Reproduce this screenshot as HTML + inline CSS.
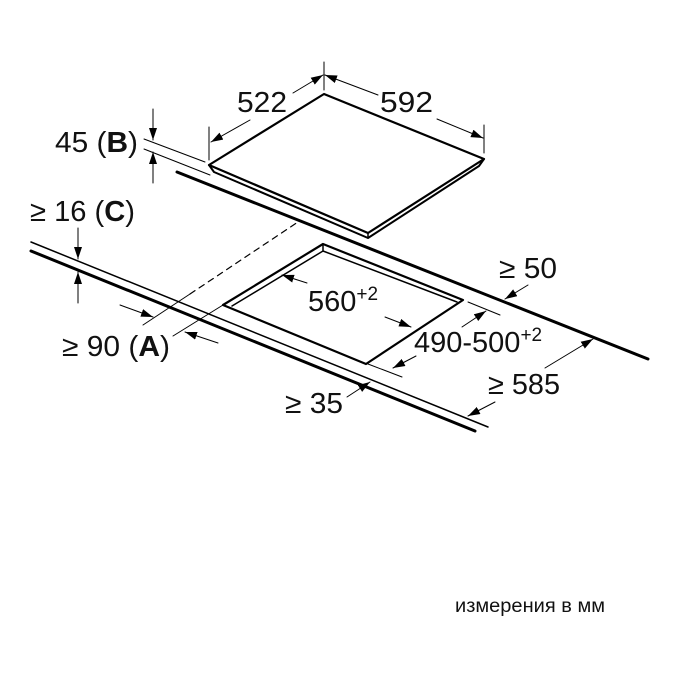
<!DOCTYPE html>
<html><head><meta charset="utf-8"><style>
html,body{margin:0;padding:0;background:#fff;}
svg{display:block;}
text{font-family:"Liberation Sans",Arial,sans-serif;fill:#111;}
</style></head><body>
<svg width="680" height="680" viewBox="0 0 680 680" xmlns="http://www.w3.org/2000/svg">
<defs>
<marker id="a" viewBox="0 0 12 8" refX="12" refY="4" markerWidth="12" markerHeight="8" markerUnits="userSpaceOnUse" orient="auto">
<path d="M0,0 L12,4 L0,8 z" fill="#000"/></marker>
</defs>
<g stroke="#000" fill="none" stroke-linecap="round" stroke-linejoin="round">
<line x1="177" y1="172" x2="648" y2="359" stroke-width="3"/>
<line x1="31" y1="242" x2="488" y2="427" stroke-width="1.5"/>
<line x1="31" y1="251" x2="475" y2="431" stroke-width="3"/>
<line x1="144" y1="139" x2="205" y2="162" stroke-width="1"/>
<line x1="144" y1="149" x2="210" y2="175" stroke-width="1"/>
<polygon points="324,94 484,159 368,233 209,165" fill="#fff" stroke-width="2.2"/>
<polyline points="209,165 214,172 368,238 479,166 484,159" stroke-width="2"/>
<line x1="368" y1="233" x2="368" y2="238" stroke-width="1.5"/>
<polygon points="323,244 463,300 366,364 223,305" stroke-width="2.2"/>
<polyline points="232,306 323,251 457,302" stroke-width="1.5"/>
<line x1="323" y1="244" x2="323" y2="251" stroke-width="1.5"/>
<line x1="190" y1="294" x2="298" y2="222" stroke-width="1.2" stroke-dasharray="6,5"/>
<line x1="143" y1="325" x2="190" y2="294" stroke-width="1"/>
<line x1="173" y1="336" x2="223" y2="305" stroke-width="1"/>
<line x1="324" y1="62" x2="324" y2="90" stroke-width="1"/>
<line x1="209" y1="127" x2="209" y2="160" stroke-width="1"/>
<line x1="484" y1="125" x2="484" y2="153" stroke-width="1"/>
<line x1="250" y1="120" x2="211" y2="142" stroke-width="1" marker-end="url(#a)"/>
<line x1="293" y1="93" x2="323" y2="75" stroke-width="1" marker-end="url(#a)"/>
<line x1="378" y1="95" x2="325" y2="75" stroke-width="1" marker-end="url(#a)"/>
<line x1="437" y1="119" x2="483" y2="138" stroke-width="1" marker-end="url(#a)"/>
<line x1="153" y1="109" x2="153" y2="140" stroke-width="1" marker-end="url(#a)"/>
<line x1="153" y1="183" x2="153" y2="152" stroke-width="1" marker-end="url(#a)"/>
<line x1="78" y1="228" x2="78" y2="259" stroke-width="1" marker-end="url(#a)"/>
<line x1="78" y1="303" x2="78" y2="272" stroke-width="1" marker-end="url(#a)"/>
<line x1="120" y1="305" x2="153" y2="317" stroke-width="1" marker-end="url(#a)"/>
<line x1="218" y1="343" x2="185" y2="332" stroke-width="1" marker-end="url(#a)"/>
<line x1="307" y1="283" x2="282" y2="275" stroke-width="1" marker-end="url(#a)"/>
<line x1="385" y1="317" x2="411" y2="327" stroke-width="1" marker-end="url(#a)"/>
<line x1="468" y1="302" x2="500" y2="315" stroke-width="1"/>
<line x1="368" y1="364" x2="402" y2="377" stroke-width="1"/>
<line x1="462" y1="327" x2="486" y2="311" stroke-width="1" marker-end="url(#a)"/>
<line x1="416" y1="356" x2="393" y2="368" stroke-width="1" marker-end="url(#a)"/>
<line x1="528" y1="285" x2="505" y2="299" stroke-width="1" marker-end="url(#a)"/>
<line x1="545" y1="368" x2="593" y2="339" stroke-width="1" marker-end="url(#a)"/>
<line x1="495" y1="402" x2="468" y2="416" stroke-width="1" marker-end="url(#a)"/>
<line x1="347" y1="397" x2="370" y2="382" stroke-width="1" marker-end="url(#a)"/>
</g>
<g font-size="29">
<text x="237" y="112" textLength="50" lengthAdjust="spacingAndGlyphs">522</text>
<text x="380" y="112" textLength="53" lengthAdjust="spacingAndGlyphs">592</text>
<text x="55" y="152" textLength="83" lengthAdjust="spacingAndGlyphs">45 (<tspan font-weight="bold">B</tspan>)</text>
<text x="30" y="221" textLength="105" lengthAdjust="spacingAndGlyphs">≥ 16 (<tspan font-weight="bold">C</tspan>)</text>
<text x="62" y="356" textLength="108" lengthAdjust="spacingAndGlyphs">≥ 90 (<tspan font-weight="bold">A</tspan>)</text>
<text x="308" y="311">560<tspan font-size="19" dy="-11">+2</tspan></text>
<text x="414" y="352">490-500<tspan font-size="19" dy="-11">+2</tspan></text>
<text x="499" y="278" textLength="58" lengthAdjust="spacingAndGlyphs">≥ 50</text>
<text x="488" y="394" textLength="72" lengthAdjust="spacingAndGlyphs">≥ 585</text>
<text x="285" y="413" textLength="58" lengthAdjust="spacingAndGlyphs">≥ 35</text>
</g>
<text x="455" y="612" font-size="19" textLength="150" lengthAdjust="spacingAndGlyphs">измерения в мм</text>
</svg>
</body></html>
